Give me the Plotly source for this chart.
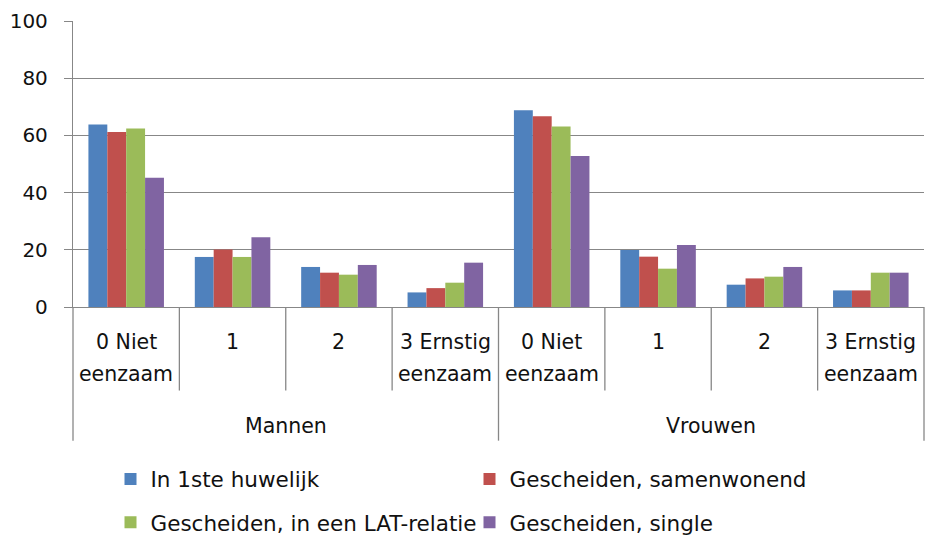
import plotly.graph_objects as go

groups = ["Mannen", "Vrouwen"]
levels_line1 = ["0 Niet", "1", "2", "3 Ernstig"]
levels_line2 = ["eenzaam", "", "", "eenzaam"]

series_names = [
    "In 1ste huwelijk",
    "Gescheiden, samenwonend",
    "Gescheiden, in een LAT-relatie",
    "Gescheiden, single",
]
series_colors = ["#4F81BD", "#C0504D", "#9BBB59", "#8064A2"]

# values per category: Mannen 0..3, Vrouwen 0..3
in_1ste_huwelijk = [63.8, 17.5, 14.0, 5.1, 68.8, 19.9, 7.8, 5.8]
gescheiden_samenwonend = [61.2, 20.1, 12.0, 6.6, 66.7, 17.6, 10.0, 5.8]
gescheiden_lat = [62.4, 17.5, 11.3, 8.5, 63.1, 13.4, 10.6, 12.0]
gescheiden_single = [45.2, 24.4, 14.7, 15.5, 52.8, 21.7, 14.0, 12.0]

y_ticks = [0, 20, 40, 60, 80, 100]

series_values = [in_1ste_huwelijk, gescheiden_samenwonend, gescheiden_lat, gescheiden_single]

FONT = "DejaVu Sans"
GRAY = "#878787"
TXT = "#111111"

n_cat = len(groups) * len(levels_line1)
xpos = list(range(n_cat))

fig = go.Figure()
legend_ids = ["legend", "legend2", "legend3", "legend4"]
for name, vals, col, lg in zip(series_names, series_values, series_colors, legend_ids):
    fig.add_trace(go.Bar(
        x=xpos, y=vals, name=name, marker=dict(color=col, line=dict(width=0)),
        legend=lg, showlegend=True,
    ))

# plot area in px: x 73..924, y 21..312
W, H = 928, 546
L, R, T, B = 73, 4, 21, 234
plot_h = H - T - B
plot_w = W - L - R

def py_to_paper(py):
    return (H - B - py) / plot_h

def px_to_paper(px):
    return (px - L) / plot_w

annotations = []
for gi, g in enumerate(groups):
    for li in range(len(levels_line1)):
        xi = gi * len(levels_line1) + li
        annotations.append(dict(x=xi, xref="x", y=py_to_paper(348), yref="paper",
                                text=levels_line1[li], showarrow=False, yanchor="middle",
                                font=dict(family=FONT, size=20.5, color=TXT)))
        if levels_line2[li]:
            annotations.append(dict(x=xi, xref="x", y=py_to_paper(380), yref="paper",
                                    text=levels_line2[li], showarrow=False, yanchor="middle",
                                    font=dict(family=FONT, size=20.5, color=TXT)))
    annotations.append(dict(x=gi * len(levels_line1) + (len(levels_line1) - 1) / 2, xref="x",
                            y=py_to_paper(433), yref="paper", text=g, showarrow=False,
                            yanchor="middle", font=dict(family=FONT, size=20.5, color=TXT)))

shapes = []
for k in range(n_cat + 1):
    xp = k / n_cat
    outer = (k % len(levels_line1) == 0)
    shapes.append(dict(type="line", xref="paper", yref="paper", x0=xp, x1=xp,
                       y0=0, y1=py_to_paper(448 if outer else 397),
                       line=dict(color=GRAY, width=1.3)))

legend_common = dict(orientation="v", bgcolor="rgba(0,0,0,0)", borderwidth=0,
                     font=dict(family=FONT, size=21.5, color=TXT), xanchor="left",
                     yanchor="middle")
legend_pos = [(110.5, 487), (469.5, 487), (110.5, 531), (469.5, 531)]
legend_layout = {}
for lg, (lx, ly) in zip(legend_ids, legend_pos):
    legend_layout[lg] = dict(legend_common, x=px_to_paper(lx), y=py_to_paper(ly))

fig.update_layout(
    width=W, height=H,
    margin=dict(l=L, r=R, t=T, b=B),
    paper_bgcolor="white", plot_bgcolor="white",
    barmode="group", bargap=0.29, bargroupgap=0,
    font=dict(family=FONT, color=TXT),
    xaxis=dict(range=[-0.5, n_cat - 0.5], showticklabels=False, showgrid=False,
               zeroline=False, showline=True, linecolor=GRAY, linewidth=1.3,
               ticks="", fixedrange=True),
    yaxis=dict(range=[0, 100], tickvals=y_ticks, showgrid=True, gridcolor=GRAY,
               gridwidth=1.3, zeroline=False, showline=True, linecolor=GRAY,
               linewidth=1.3, ticks="outside", ticklen=8, tickcolor=GRAY,
               tickwidth=1.3, tickfont=dict(family=FONT, size=20, color=TXT),
               ticklabelstandoff=12, fixedrange=True),
    annotations=annotations,
    shapes=shapes,
    **legend_layout,
)

post = (
    "document.documentElement.style.margin='0';"
    "document.body.style.margin='0';"
    "document.body.style.overflow='hidden';"
    "var d=document.getElementById('{plot_id}');"
    "d.style.position='absolute';d.style.left='0px';d.style.top='0px';"
)

fig.write_html("out.html", config={"displayModeBar": False}, post_script=post)
